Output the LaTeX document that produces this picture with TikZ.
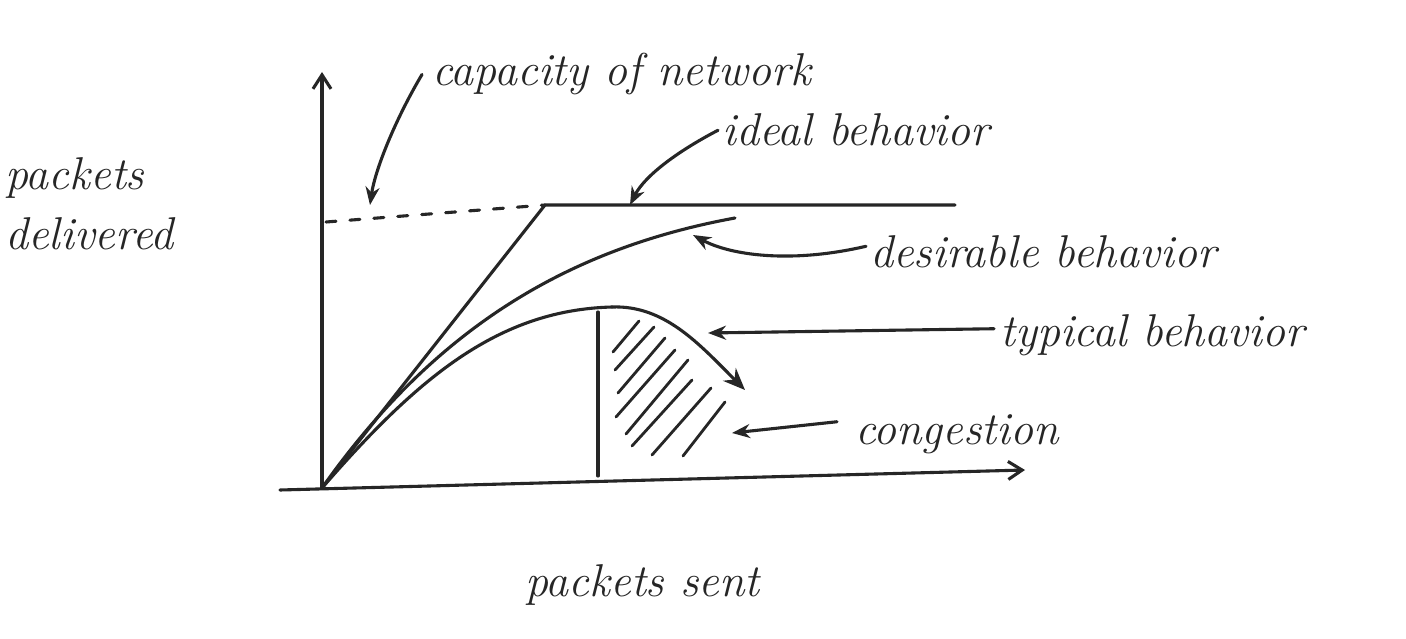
\documentclass[tikz,border=0pt]{standalone}
\usetikzlibrary{arrows.meta}
\begin{document}
\begin{tikzpicture}[x=1pt,y=-1pt,
  pen/.style={line width=3.1pt, line cap=round, line join=round, draw=black!85},
  lbl/.style={font=\fontsize{46}{60}\selectfont\itshape, inner sep=0pt, anchor=base west, text=black!85},
  ptr/.style={pen, -{Stealth[length=18pt,width=14pt]}},
  hatch/.style={line width=2.8pt, line cap=round, draw=black!85}]
\fill[white] (0,0) rectangle (1406,639);
\path[use as bounding box] (0,0) rectangle (1406,639);

% axes
\coordinate (O) at (322,488);
\coordinate (ytop) at (322,72);
\coordinate (xl) at (280,490);
\coordinate (xr) at (1025,470);
\draw[pen, -{Straight Barb[length=14pt,width=18pt]}] (O) -- (ytop);
\draw[pen, -{Straight Barb[length=14pt,width=18pt]}] (xl) -- (xr);

% capacity dashed
\coordinate (dash0) at (326,222);
\coordinate (knee) at (545,205);
\coordinate (idealEnd) at (955,205);
\draw[pen, dash pattern=on 10pt off 14pt] (dash0) -- (knee);

% ideal
\draw[pen] (O) -- (knee) -- (idealEnd);

% desirable
\coordinate (desEnd) at (735,218);
\draw[pen] (O) .. controls (430,335) and (560,250) .. (desEnd);

% typical
\coordinate (peak) at (612,307);
\coordinate (typEnd) at (745,390);
\draw[pen] (O) .. controls (420,375) and (500,310) .. (peak);
\draw[pen, -{Stealth[length=22pt,width=18pt]}] (peak) .. controls (665,305) and (700,345) .. (typEnd);

% congestion region
\coordinate (vtop) at (598,312);
\coordinate (vbot) at (598,476);
\draw[pen] (vtop) -- (vbot);
\foreach \a/\b/\c/\d in {613/352/639/321, 615/370/654/327, 618/393/665/338, 616/417/675/350,
                         626/434/688/360, 632/446/692/380, 652/455/711/388, 683/456/725/402}
  \draw[hatch] (\a,\b) -- (\c,\d);

% labels
\node[lbl] (cap) at (432,86) {capacity of network};
\node[lbl] (ideal) at (722,146) {ideal behavior};
\node[lbl] (des) at (870,268) {desirable behavior};
\node[lbl] (typ) at (1000,346) {typical behavior};
\node[lbl] (cong) at (855,444) {congestion};
\node[lbl, align=left] (pd) at (5,250) {packets\\delivered};
\node[lbl] (ps) at (525,596) {packets sent};

% pointers
\coordinate (capT) at (370,205);
\coordinate (idealT) at (630,205);
\coordinate (desT) at (693,235);
\coordinate (typT) at (708,333);
\coordinate (congT) at (732,433);
\draw[ptr] (cap.west) ++(-10,0) .. controls (395,120) and (375,170) .. (capT);
\draw[ptr] (ideal.west) ++(-4,0) .. controls (680,150) and (645,175) .. (idealT);
\draw[ptr] (des.west) ++(-4,-6) .. controls (790,264) and (730,255) .. (desT);
\draw[ptr] (typ.west) ++(-6,-6) -- (typT);
\draw[ptr] (cong.west) ++(-18,-12) -- (congT);
\end{tikzpicture}
\end{document}
